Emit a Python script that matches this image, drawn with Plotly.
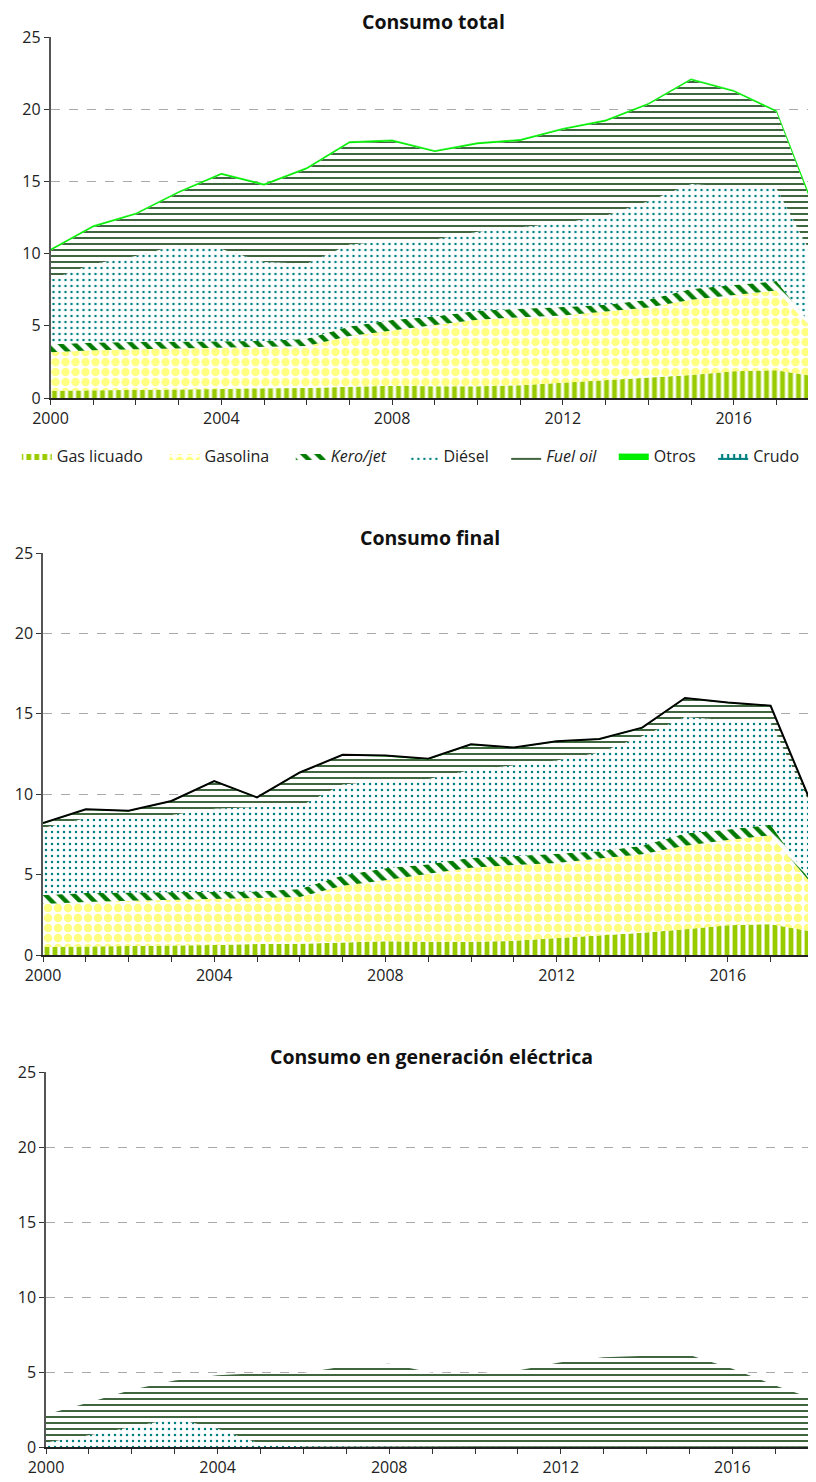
import plotly.graph_objects as go

years = list(range(2000, 2019))

# capas comunes (consumo final == consumo total para estos productos)
gas_licuado = [0.50, 0.52, 0.55, 0.58, 0.62, 0.68, 0.70, 0.78, 0.85, 0.82,
               0.82, 0.88, 1.05, 1.25, 1.38, 1.60, 1.85, 1.92, 1.45]
gasolina = [2.67, 2.78, 2.82, 2.84, 2.88, 2.85, 2.90, 3.52, 3.80, 4.23,
            4.60, 4.72, 4.67, 4.75, 4.89, 5.20, 5.30, 5.53, 2.85]
kero_jet = [0.56, 0.55, 0.51, 0.48, 0.45, 0.42, 0.50, 0.65, 0.75, 0.60,
            0.63, 0.55, 0.58, 0.45, 0.53, 0.75, 0.65, 0.65, 0.05]

# consumo total
diesel_total = [4.47, 5.43, 5.95, 6.70, 6.37, 5.47, 5.20, 5.68, 5.48, 5.32,
                5.47, 5.67, 5.82, 6.17, 6.82, 7.27, 6.82, 6.42, 4.62]
fuel_total = [2.00, 2.55, 2.87, 3.59, 5.14, 5.30, 6.55, 7.02, 6.89, 6.06,
              6.06, 5.98, 6.45, 6.53, 6.68, 7.18, 6.58, 5.28, 3.13]
otros_total = [0.10, 0.10, 0.10, 0.10, 0.10, 0.10, 0.10, 0.10, 0.10, 0.10,
               0.10, 0.10, 0.10, 0.10, 0.10, 0.10, 0.10, 0.10, 0.20]
crudo = [0] * 19

# consumo final
diesel_final = [4.17, 4.65, 4.62, 4.80, 5.15, 5.25, 5.15, 5.65, 5.45, 5.30,
                5.45, 5.65, 5.80, 6.15, 6.80, 7.25, 6.80, 6.40, 4.60]
fuel_final = [0.25, 0.51, 0.42, 0.83, 1.67, 0.55, 2.05, 1.80, 1.50, 1.20,
              1.55, 1.05, 1.15, 0.78, 0.49, 1.13, 1.05, 0.95, 0.02]
otros_final = [0.05, 0.05, 0.05, 0.05, 0.05, 0.05, 0.05, 0.05, 0.05, 0.05,
               0.05, 0.05, 0.05, 0.05, 0.05, 0.05, 0.05, 0.05, 0.15]
total_final = [8.20, 9.06, 8.97, 9.58, 10.82, 9.80, 11.35, 12.45, 12.40, 12.20,
               13.10, 12.90, 13.30, 13.43, 14.14, 15.98, 15.70, 15.50, 9.12]

# consumo en generación eléctrica
diesel_gen = [0.30, 0.78, 1.33, 1.90, 1.22, 0.22, 0.05, 0.03, 0.03, 0.02,
              0.02, 0.02, 0.02, 0.02, 0.02, 0.02, 0.02, 0.02, 0.02]
fuel_gen = [1.86, 2.18, 2.49, 2.54, 3.56, 4.71, 4.88, 5.37, 5.52, 4.93,
            4.88, 5.08, 5.63, 5.96, 6.07, 6.11, 5.20, 4.08, 3.08]

FONT = "Open Sans"

# (patrón, nº de espacios tras el nombre en la leyenda)
styles = {
    "Gas licuado": (dict(shape="|", fgcolor="#99CC00", size=8, solidity=0.6), 4),
    "Gasolina": (dict(shape=".", fgcolor="#FFFF80", size=10, solidity=0.55), 4),
    "<i>Kero/jet</i>": (dict(shape="\\", fgcolor="#007A00", size=10, solidity=0.45), 3),
    "Diésel": (dict(shape=".", fgcolor="#008080", size=6, solidity=0.14), 3),
    "<i>Fuel oil</i>": (dict(shape="-", fgcolor="#003300", size=6, solidity=0.25), 3),
    "Otros": (None, 3),
    "Crudo": (dict(shape="+", fgcolor="#007F7F", size=6, solidity=0.6), 0),
}

fig = go.Figure()


def add_stack(series, xa, ya, group, legend):
    for name, vals in series:
        st, pad = styles[name]
        kw = dict(x=years, y=vals, name=name + "&nbsp;" * pad, stackgroup=group,
                  mode="lines", xaxis=xa, yaxis=ya, legendgroup=name,
                  showlegend=legend, hoverinfo="skip")
        if st is None:
            kw["line"] = dict(width=0.7, color="#00EE00")
            kw["fillcolor"] = "#00EE00"
        else:
            kw["line"] = dict(width=0, color=st["fgcolor"])
            kw["fillcolor"] = "white"
            kw["fillpattern"] = dict(bgcolor="white", fillmode="replace", **st)
        fig.add_trace(go.Scatter(**kw))


add_stack([("Gas licuado", gas_licuado), ("Gasolina", gasolina),
           ("<i>Kero/jet</i>", kero_jet), ("Diésel", diesel_total),
           ("<i>Fuel oil</i>", fuel_total), ("Otros", otros_total),
           ("Crudo", crudo)], "x", "y", "total", True)

add_stack([("Gas licuado", gas_licuado), ("Gasolina", gasolina),
           ("<i>Kero/jet</i>", kero_jet), ("Diésel", diesel_final),
           ("<i>Fuel oil</i>", fuel_final), ("Otros", otros_final)],
          "x2", "y2", "final", False)
fig.add_trace(go.Scatter(x=years, y=total_final, mode="lines", xaxis="x2", yaxis="y2",
                         line=dict(color="black", width=2), showlegend=False,
                         hoverinfo="skip"))

add_stack([("Diésel", diesel_gen), ("<i>Fuel oil</i>", fuel_gen)],
          "x3", "y3", "gen", False)

# el cuerpo de la página tiene 8px de margen y 800px de ancho útil
OFF = 8
W = 800
H = 1482 - OFF
RIGHT = OFF + W  # borde derecho visible en px de la página
panels = [  # (left, top, bottom en px de la página, px por año, título)
    (50.5, 37, 398, 42.7, "Consumo total"),
    (43, 553, 955, 42.8, "Consumo final"),
    (46, 1072, 1447, 42.9, "Consumo en generación eléctrica"),
]

layout = dict(
    width=W, height=H,
    margin=dict(l=0, r=0, t=0, b=0, autoexpand=False),
    paper_bgcolor="white", plot_bgcolor="white",
    font=dict(family=FONT, size=16, color="#222"),
    showlegend=True,
    legend=dict(orientation="h", x=0.011, y=1 - (456 - OFF) / H, xanchor="left",
                yanchor="middle", font=dict(size=16, color="#222"),
                traceorder="normal", bgcolor="rgba(0,0,0,0)"),
    annotations=[],
)

for i, (left, top, bottom, pxyear, title) in enumerate(panels):
    sfx = "" if i == 0 else str(i + 1)
    layout["xaxis" + sfx] = dict(
        domain=[(left - OFF) / W, 1], range=[2000, 2000 + (RIGHT - left) / pxyear],
        anchor="y" + sfx,
        tickvals=[2000, 2004, 2008, 2012, 2016], ticks="outside", ticklen=5,
        tickcolor="#333", showline=True, linecolor="#222", linewidth=1.5,
        showgrid=False, zeroline=False, automargin=False,
        tickfont=dict(size=16, color="#222"),
        minor=dict(dtick=1, tick0=2000, ticks="outside", ticklen=5, tickcolor="#333",
                   showgrid=False),
    )
    layout["yaxis" + sfx] = dict(
        domain=[1 - (bottom - OFF) / H, 1 - (top - OFF) / H], range=[0, 25], dtick=5,
        anchor="x" + sfx, ticks="outside", ticklen=5, tickcolor="#333",
        showline=True, linecolor="#555", linewidth=1.5, automargin=False,
        showgrid=True, gridcolor="#AAAAAA", griddash="dash", gridwidth=1,
        zeroline=False, tickfont=dict(size=16, color="#222"),
    )
    layout["annotations"].append(dict(
        text="<b>" + title + "</b>", x=((left + 816) / 2 - OFF) / W,
        y=1 - (top - 16 - OFF) / H,
        xref="paper", yref="paper", showarrow=False, xanchor="center",
        yanchor="middle", font=dict(size=19.5, color="#111", family=FONT)))

fig.update_layout(**layout)
fig.write_html("out.html")
